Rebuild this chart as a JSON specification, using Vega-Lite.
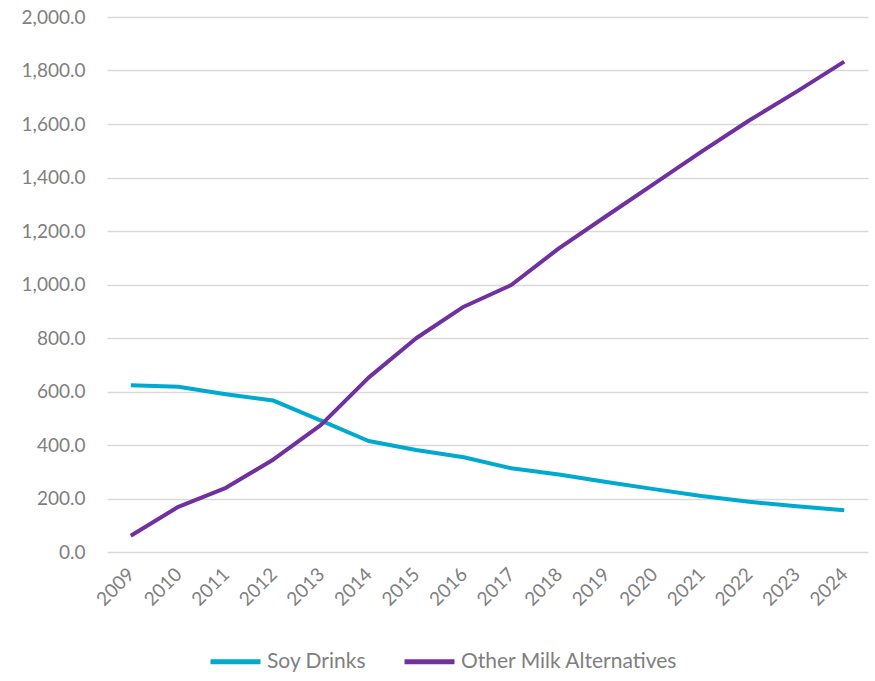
{
  "$schema": "https://vega.github.io/schema/vega-lite/v6.json",
  "width": 761,
  "height": 535,
  "autosize": "none",
  "padding": {"left": 107, "top": 17, "right": 7, "bottom": 129},
  "background": "white",
  "config": {
    "view": {"stroke": null},
    "font": "Lato"
  },
  "data": {
    "values": [
      {"year": "2009", "series": "Soy Drinks", "value": 623},
      {"year": "2010", "series": "Soy Drinks", "value": 618},
      {"year": "2011", "series": "Soy Drinks", "value": 590},
      {"year": "2012", "series": "Soy Drinks", "value": 566},
      {"year": "2013", "series": "Soy Drinks", "value": 491},
      {"year": "2014", "series": "Soy Drinks", "value": 415},
      {"year": "2015", "series": "Soy Drinks", "value": 381},
      {"year": "2016", "series": "Soy Drinks", "value": 354},
      {"year": "2017", "series": "Soy Drinks", "value": 313},
      {"year": "2018", "series": "Soy Drinks", "value": 290},
      {"year": "2019", "series": "Soy Drinks", "value": 262},
      {"year": "2020", "series": "Soy Drinks", "value": 235},
      {"year": "2021", "series": "Soy Drinks", "value": 209},
      {"year": "2022", "series": "Soy Drinks", "value": 188},
      {"year": "2023", "series": "Soy Drinks", "value": 171},
      {"year": "2024", "series": "Soy Drinks", "value": 156},
      {"year": "2009", "series": "Other Milk Alternatives", "value": 61},
      {"year": "2010", "series": "Other Milk Alternatives", "value": 169},
      {"year": "2011", "series": "Other Milk Alternatives", "value": 240},
      {"year": "2012", "series": "Other Milk Alternatives", "value": 346},
      {"year": "2013", "series": "Other Milk Alternatives", "value": 475},
      {"year": "2014", "series": "Other Milk Alternatives", "value": 652},
      {"year": "2015", "series": "Other Milk Alternatives", "value": 799},
      {"year": "2016", "series": "Other Milk Alternatives", "value": 917},
      {"year": "2017", "series": "Other Milk Alternatives", "value": 998},
      {"year": "2018", "series": "Other Milk Alternatives", "value": 1135},
      {"year": "2019", "series": "Other Milk Alternatives", "value": 1256},
      {"year": "2020", "series": "Other Milk Alternatives", "value": 1376},
      {"year": "2021", "series": "Other Milk Alternatives", "value": 1497},
      {"year": "2022", "series": "Other Milk Alternatives", "value": 1613},
      {"year": "2023", "series": "Other Milk Alternatives", "value": 1721},
      {"year": "2024", "series": "Other Milk Alternatives", "value": 1833}
    ]
  },
  "mark": {"type": "line", "strokeWidth": 4, "strokeJoin": "round"},
  "encoding": {
    "x": {
      "field": "year",
      "type": "ordinal",
      "scale": {"type": "point", "padding": 0.5},
      "axis": {
        "title": null,
        "domain": false,
        "ticks": false,
        "grid": false,
        "labelAngle": -45,
        "labelAlign": "right",
        "labelBaseline": "middle",
        "labelFontSize": 19,
        "labelColor": "#808080",
        "labelPadding": 19
      }
    },
    "y": {
      "field": "value",
      "type": "quantitative",
      "scale": {"domain": [0, 2000], "nice": false},
      "axis": {
        "title": null,
        "domain": false,
        "ticks": false,
        "values": [0, 200, 400, 600, 800, 1000, 1200, 1400, 1600, 1800, 2000],
        "format": ",.1f",
        "gridColor": "#d9d9d9",
        "gridWidth": 1.5,
        "labelFontSize": 19,
        "labelColor": "#808080",
        "labelPadding": 22
      }
    },
    "color": {
      "field": "series",
      "type": "nominal",
      "scale": {
        "domain": ["Soy Drinks", "Other Milk Alternatives"],
        "range": ["#00A9CE", "#7030A0"]
      },
      "legend": {
        "title": null,
        "orient": "none",
        "direction": "horizontal",
        "legendX": 101,
        "legendY": 617,
        "symbolType": "stroke",
        "symbolSize": 2500,
        "symbolStrokeWidth": 5,
        "labelFontSize": 21,
        "labelColor": "#808080",
        "labelLimit": 400,
        "columnPadding": 27,
        "labelOffset": 4
      }
    }
  }
}
